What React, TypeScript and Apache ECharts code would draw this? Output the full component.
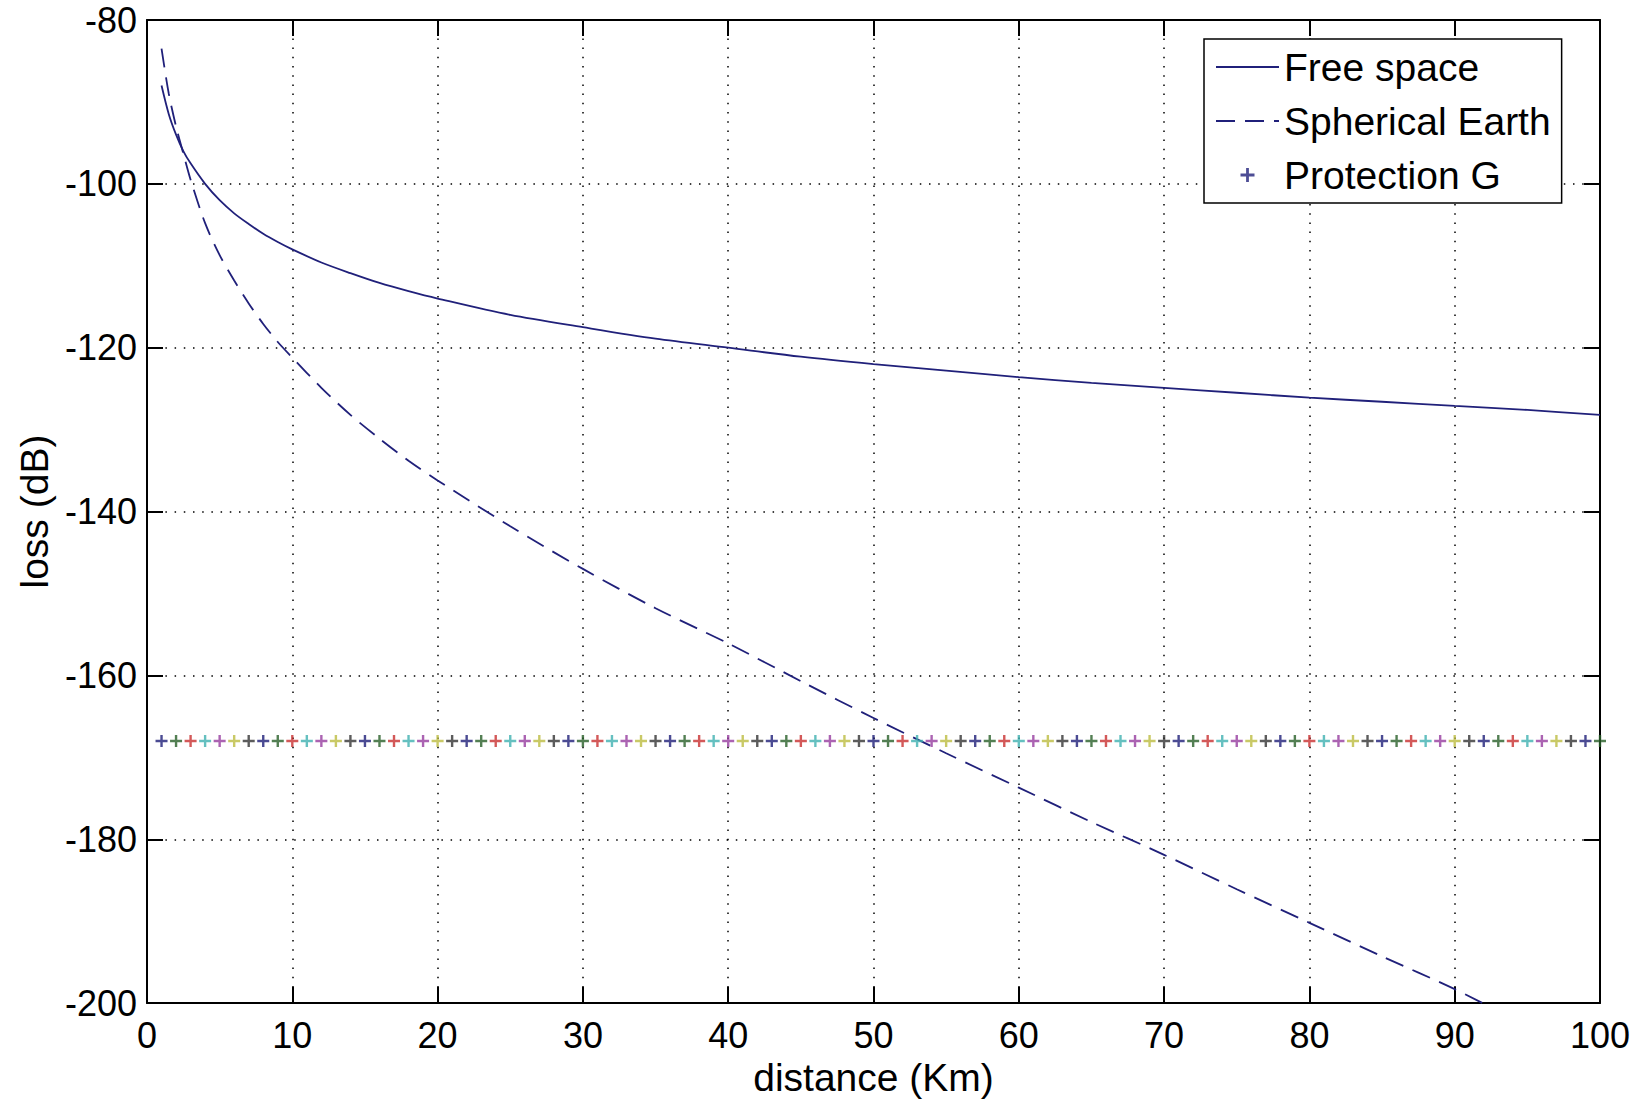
import React, { useEffect, useRef } from "react";
import * as echarts from "echarts";

// ---- data ----
const xTicks = [0, 10, 20, 30, 40, 50, 60, 70, 80, 90, 100];
const yTicks = [-200, -180, -160, -140, -120, -100, -80];

const freeSpaceDistance = [1, 1.5, 2, 2.5, 3, 4, 5, 6, 7, 8, 9, 10, 12, 14, 16, 18, 20, 25, 30, 35, 40, 45, 50, 55, 60, 65, 70, 75, 80, 85, 90, 95, 100];
const freeSpaceLoss = [-88, -91.5, -94, -96, -97.5, -100, -102, -103.6, -104.9, -106.1, -107.1, -108, -109.6, -110.9, -112.1, -113.1, -114, -116, -117.5, -118.9, -120, -121.1, -122, -122.8, -123.6, -124.3, -124.9, -125.5, -126.1, -126.6, -127.1, -127.6, -128.2];

const sphericalDistance = [1, 1.5, 2, 2.5, 3, 4, 5, 6, 7, 8, 9, 10, 12, 14, 16, 18, 20, 25, 30, 35, 40, 45, 50, 55, 60, 65, 70, 75, 80, 85, 90, 95];
const sphericalLoss = [-83.5, -89.0, -93.0, -96.3, -99.5, -104.8, -108.7, -111.8, -114.6, -117.1, -119.3, -121.2, -124.9, -128.2, -131.1, -133.8, -136.2, -141.8, -147.0, -151.8, -156.1, -160.7, -165.2, -169.5, -173.7, -177.9, -181.9, -186.1, -190.2, -194.3, -198.3, -202.8];

const protectionDistance = [
  1, 2, 3, 4, 5, 6, 7, 8, 9, 10, 11, 12, 13, 14, 15, 16, 17, 18, 19, 20,
  21, 22, 23, 24, 25, 26, 27, 28, 29, 30, 31, 32, 33, 34, 35, 36, 37, 38, 39, 40,
  41, 42, 43, 44, 45, 46, 47, 48, 49, 50, 51, 52, 53, 54, 55, 56, 57, 58, 59, 60,
  61, 62, 63, 64, 65, 66, 67, 68, 69, 70, 71, 72, 73, 74, 75, 76, 77, 78, 79, 80,
  81, 82, 83, 84, 85, 86, 87, 88, 89, 90, 91, 92, 93, 94, 95, 96, 97, 98, 99, 100,
];
const protectionLevel = -168;

// ---- styles ----
const LINE_COLOR = "#20207a";
const MARKER_COLORS = ["#1e1e78", "#285f28", "#c83030", "#3fb0b0", "#963c9f", "#bcbc40", "#333333"];
const FONT = "'Liberation Sans', Arial, Helvetica, sans-serif";
const PLUS = "path://M4.0,0H6.0V4.0H10V6.0H6.0V10H4.0V6.0H0V4.0H4.0Z";

export default function App() {
  const ref = useRef<HTMLDivElement>(null);

  useEffect(() => {
    if (!ref.current) return;
    const chart = echarts.init(ref.current, undefined, { renderer: "svg" });

    const gridLine = { show: true, lineStyle: { color: "#000", width: 1.5, type: [1.5, 7.7] as any } };
    const axisLine = { show: true, onZero: false, lineStyle: { color: "#000", width: 2 } };
    const tick = { show: true, inside: true, length: 16, lineStyle: { color: "#000", width: 2 } };

    const option: any = {
      animation: false,
      backgroundColor: "#fff",
      textStyle: { fontFamily: FONT },
      grid: { left: 147, top: 20, right: 38, bottom: 94, containLabel: false },
      xAxis: [
        {
          type: "value",
          position: "bottom",
          min: xTicks[0],
          max: xTicks[xTicks.length - 1],
          interval: 10,
          axisLine,
          axisTick: tick,
          splitLine: gridLine,
          axisLabel: { color: "#000", fontSize: 36, fontFamily: FONT, margin: 14 },
          name: "distance (Km)",
          nameLocation: "middle",
          nameGap: 52,
          nameTextStyle: { color: "#000", fontSize: 39, fontFamily: FONT },
        },
        {
          type: "value",
          position: "top",
          min: xTicks[0],
          max: xTicks[xTicks.length - 1],
          interval: 10,
          axisLine,
          axisTick: tick,
          splitLine: { show: false },
          axisLabel: { show: false },
        },
      ],
      yAxis: [
        {
          type: "value",
          position: "left",
          min: yTicks[0],
          max: yTicks[yTicks.length - 1],
          interval: 20,
          axisLine,
          axisTick: tick,
          splitLine: gridLine,
          axisLabel: { color: "#000", fontSize: 36, fontFamily: FONT, margin: 10 },
          name: "loss (dB)",
          nameLocation: "middle",
          nameGap: 92,
          nameTextStyle: { color: "#000", fontSize: 39, fontFamily: FONT },
        },
        {
          type: "value",
          position: "right",
          min: yTicks[0],
          max: yTicks[yTicks.length - 1],
          interval: 20,
          axisLine,
          axisTick: tick,
          splitLine: { show: false },
          axisLabel: { show: false },
        },
      ],
      legend: {
        left: 1204,
        top: 39,
        orient: "vertical",
        backgroundColor: "#fff",
        borderColor: "#000",
        borderWidth: 1.5,
        borderRadius: 0,
        padding: [6, 11, 6, 11],
        itemGap: 10,
        itemWidth: 63,
        itemHeight: 14,
        textStyle: { color: "#000", fontSize: 39, fontFamily: FONT, lineHeight: 44 },
        data: [
          { name: "Free space", itemStyle: { opacity: 0 } },
          { name: "Spherical Earth", itemStyle: { opacity: 0 } },
          { name: "Protection G", icon: PLUS },
        ],
      },
      series: [
        {
          name: "Free space",
          type: "line",
          data: freeSpaceDistance.map((d, i) => [d, freeSpaceLoss[i]]),
          showSymbol: false,
          symbol: "none",
          smooth: 0.3,
          lineStyle: { color: LINE_COLOR, width: 1.8, type: "solid" },
          itemStyle: { color: LINE_COLOR },
          z: 3,
        },
        {
          name: "Spherical Earth",
          type: "line",
          data: sphericalDistance.map((d, i) => [d, sphericalLoss[i]]),
          showSymbol: false,
          symbol: "none",
          smooth: 0.3,
          clip: true,
          lineStyle: { color: LINE_COLOR, width: 1.8, type: [19, 10] },
          itemStyle: { color: LINE_COLOR },
          z: 3,
        },
        {
          name: "Protection G",
          type: "scatter",
          symbol: PLUS,
          symbolSize: 12,
          itemStyle: { color: LINE_COLOR },
          data: protectionDistance.map((d, i) => ({
            value: [d, protectionLevel],
            itemStyle: { color: MARKER_COLORS[i % MARKER_COLORS.length] },
          })),
          z: 4,
        },
      ],
    };

    chart.setOption(option);
    return () => chart.dispose();
  }, []);

  return (
    <div
      ref={ref}
      style={{ position: "fixed", left: 0, top: 0, width: "1638px", height: "1102px", background: "#fff" }}
    />
  );
}
